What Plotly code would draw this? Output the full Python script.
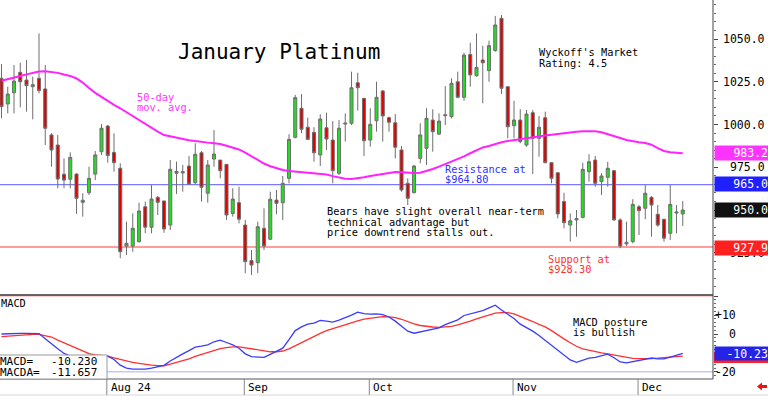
import pandas as pd
import plotly.graph_objects as go

# ---------------- data ----------------
dates = pd.bdate_range("2024-07-09", "2024-12-11", freq="C",
                       holidays=["2024-09-02", "2024-11-28"])

opens = [1027.0, 1012.0, 1018.6, 1030.5, 1026.0, 1022.1, 1027.0, 1020.8, 993.9, 988.0,
         970.9, 968.0, 971.0, 954.5, 960.1, 971.0, 984.1, 999.1, 983.7, 974.4,
         928.9, 928.9, 931.5, 951.9, 939.9, 957.4, 955.3, 941.2, 972.6, 972.4,
         975.7, 966.0, 983.5, 959.8, 979.8, 979.2, 976.7, 948.0, 954.3, 941.2,
         920.4, 919.2, 939.3, 932.9, 955.8, 954.3, 968.5, 992.5, 1009.5, 998.4,
         995.4, 982.2, 998.1, 990.9, 971.5, 1000.9, 1000.7, 1024.4, 1015.3, 990.9,
         1002.2, 1019.6, 1004.0, 1001.0, 985.1, 965.6, 960.1, 980.2, 986.1, 1002.6,
         994.4, 1005.7, 1004.6, 1025.0, 1015.9, 1041.0, 1028.5, 1037.7, 1031.5, 1043.2,
         1062.1, 1022.1, 999.3, 1002.6, 988.0, 1006.9, 991.9, 1004.0, 977.7, 971.8,
         954.9, 941.2, 944.2, 945.7, 972.4, 979.2, 966.6, 969.1, 973.0, 944.2,
         930.2, 931.5, 951.9, 951.0, 957.4, 947.5, 944.6, 936.4, 948.2, 947.7]
highs = [1035.4, 1022.1, 1034.8, 1036.1, 1037.7, 1028.0, 1053.3, 1034.8, 994.9, 993.9,
         980.2, 983.7, 971.5, 959.8, 975.3, 984.5, 1000.3, 999.7, 994.9, 977.3,
         943.2, 948.0, 954.3, 954.9, 964.6, 958.2, 955.3, 979.2, 978.3, 976.3,
         981.6, 989.0, 984.5, 979.2, 996.8, 979.2, 976.7, 962.7, 963.6, 944.2,
         926.6, 943.2, 951.0, 960.7, 961.7, 969.9, 994.3, 1017.3, 1017.8, 1004.0,
         998.4, 1006.0, 1006.9, 1002.0, 1002.6, 1006.5, 1030.9, 1030.3, 1015.3, 1009.5,
         1025.0, 1020.2, 1004.6, 1006.1, 987.4, 968.5, 976.3, 1000.7, 1009.5, 1008.9,
         1006.5, 1022.5, 1027.0, 1030.9, 1042.0, 1047.8, 1053.3, 1046.0, 1049.0, 1063.5,
         1064.0, 1022.1, 1013.9, 1008.9, 1008.5, 1008.5, 1005.0, 1007.5, 977.7, 971.8,
         960.1, 948.0, 950.0, 977.7, 982.6, 981.6, 971.5, 978.2, 973.4, 945.1,
         943.2, 956.3, 952.9, 964.6, 958.2, 952.9, 944.6, 964.6, 952.9, 955.3]
lows = [1003.6, 1006.5, 1006.5, 1010.0, 1007.5, 1003.0, 1018.2, 988.0, 975.3, 962.7,
        962.7, 962.7, 947.7, 946.1, 958.8, 967.5, 982.2, 977.7, 972.4, 921.8,
        923.7, 925.6, 930.9, 936.4, 936.4, 947.1, 936.7, 938.3, 959.4, 960.7,
        964.6, 965.2, 954.9, 954.3, 975.3, 968.5, 944.2, 946.1, 942.2, 913.0,
        912.0, 913.0, 926.6, 932.5, 947.5, 944.2, 965.6, 991.9, 994.9, 990.9,
        978.2, 975.7, 985.1, 965.6, 970.5, 990.0, 999.7, 1008.1, 981.6, 987.0,
        995.8, 990.0, 995.8, 980.2, 960.7, 952.9, 959.8, 977.3, 976.3, 984.1,
        993.9, 999.7, 1003.6, 1015.3, 1013.9, 1022.1, 1028.0, 1012.4, 1025.0, 1042.6,
        1017.8, 991.9, 991.9, 989.0, 987.0, 971.0, 981.2, 977.3, 965.6, 945.1,
        939.3, 931.5, 934.4, 945.1, 966.6, 963.6, 958.8, 963.6, 943.7, 927.6,
        928.9, 930.5, 935.4, 944.6, 934.4, 940.2, 931.5, 932.5, 936.4, 940.7]
closes = [1010.4, 1017.8, 1025.4, 1025.0, 1022.7, 1023.3, 1019.8, 997.8, 985.1, 968.1,
          967.5, 980.8, 956.8, 955.7, 968.5, 982.2, 997.8, 981.8, 977.7, 925.6,
          930.5, 939.3, 949.4, 939.9, 956.4, 954.5, 938.9, 973.8, 971.5, 971.8,
          965.2, 982.6, 963.3, 976.3, 982.7, 973.0, 947.1, 956.4, 944.6, 919.8,
          917.8, 940.2, 928.9, 956.3, 953.9, 965.6, 991.3, 1015.7, 997.2, 991.3,
          983.5, 1003.2, 991.5, 973.0, 997.8, 1000.4, 1021.5, 1021.5, 990.5, 1000.1,
          1015.9, 1005.0, 1001.3, 986.7, 961.7, 956.8, 975.7, 993.9, 1003.6, 995.8,
          1002.0, 1005.2, 1024.1, 1015.9, 1040.6, 1029.0, 1033.4, 1036.1, 1046.1, 1058.2,
          1021.2, 998.7, 1002.6, 990.0, 1006.1, 991.9, 998.4, 977.7, 968.5, 947.7,
          942.6, 943.7, 945.0, 973.8, 978.2, 965.6, 969.9, 974.4, 944.2, 928.9,
          931.1, 953.3, 949.6, 959.8, 952.9, 941.2, 933.5, 953.3, 948.8, 950.0]
ma50 = [1025.6, 1026.4, 1027.2, 1028.4, 1029.3, 1030.2, 1031.0, 1031.2, 1030.9, 1030.2,
        1029.2, 1028.4, 1026.9, 1024.5, 1021.4, 1018.5, 1016.2, 1013.6, 1011.5, 1009.5,
        1007.2, 1004.6, 1002.3, 1000.2, 998.0, 995.8, 993.8, 993.0, 992.2, 991.4,
        990.8, 990.4, 989.8, 989.4, 989.1, 988.6, 987.6, 986.6, 985.4, 983.6,
        981.5, 979.5, 977.2, 975.6, 974.3, 973.4, 972.8, 972.5, 972.2, 971.9,
        971.5, 971.1, 970.7, 969.8, 968.9, 968.3, 968.2, 968.6, 969.2, 969.9,
        970.4, 971.0, 971.7, 972.2, 972.1, 971.8, 971.6, 971.8, 972.8, 974.0,
        975.4, 976.8, 978.3, 979.8, 981.4, 983.2, 985.0, 986.6, 987.4, 988.6,
        989.6, 990.3, 990.9, 991.5, 992.1, 992.7, 993.1, 993.6, 994.0, 994.5,
        995.0, 995.4, 995.7, 996.0, 996.2, 996.0, 995.5, 994.5, 993.3, 992.1,
        990.9, 990.1, 989.6, 989.2, 988.2, 986.2, 984.5, 983.8, 983.4, 983.2]
macd = [0.0, 0.2, 0.3, 0.3, 0.3, 0.3, 0.2, -2.5, -5.3, -7.8,
        -10.3, -11.5, -12.0, -12.0, -11.8, -11.7, -11.7, -11.7, -13.5, -16.5,
        -18.0, -18.6, -18.6, -18.6, -18.0, -17.3, -16.6, -14.3, -12.3, -10.5,
        -8.8, -7.0, -6.4, -5.7, -4.1, -3.3, -4.5, -5.7, -7.5, -10.5,
        -12.0, -12.2, -12.4, -10.8, -9.0, -7.5, -3.0, 1.8, 3.8, 5.2,
        5.8, 7.2, 6.8, 6.3, 7.3, 8.5, 10.0, 11.6, 10.8, 10.5,
        10.6, 10.2, 9.0, 6.8, 3.9, 1.5, 0.4, 1.2, 2.0, 2.6,
        3.3, 5.0, 6.4, 7.5, 9.8, 10.6, 11.5, 12.4, 13.8, 15.2,
        12.7, 10.6, 8.2, 5.2, 3.5, 1.5, -0.8, -3.4, -5.8, -8.6,
        -11.3, -13.7, -15.0, -13.8, -12.8, -12.4, -11.7, -10.7, -12.6, -14.8,
        -15.3, -14.6, -14.0, -13.1, -12.7, -13.2, -13.2, -12.2, -11.4, -10.23]
macda = [-1.4, -1.1, -0.8, -0.5, -0.3, -0.2, -0.2, -0.8, -1.6, -3.2,
         -4.6, -6.2, -7.6, -9.0, -10.4, -11.0, -11.4, -11.7, -12.6, -13.5,
         -14.3, -15.0, -15.6, -16.2, -16.5, -16.7, -16.8, -16.0, -15.1, -14.3,
         -13.1, -11.9, -10.9, -9.8, -8.6, -7.7, -7.2, -6.8, -6.8, -7.3,
         -7.9, -8.6, -9.2, -9.4, -9.4, -9.0, -7.9, -6.2, -4.6, -2.9,
         -1.4, 0.3, 1.8, 2.9, 4.0, 4.9, 6.1, 7.0, 7.9, 8.4,
         8.9, 9.2, 9.1, 8.7, 7.8, 6.5, 5.4, 4.5, 3.9, 3.7,
         3.5, 3.6, 4.0, 4.8, 5.7, 6.8, 8.0, 8.9, 10.0, 11.0,
         11.3, 11.3, 10.6, 9.4, 8.0, 6.6, 5.1, 3.8, 1.8, -0.5,
         -2.6, -4.6, -6.5, -7.9, -8.7, -9.6, -10.0, -10.5, -11.2, -11.9,
         -12.6, -12.9, -13.0, -13.1, -13.0, -12.8, -12.5, -12.3, -12.0, -11.657]

month_numbers = [8, 9, 10, 11, 12]
month_labels = ["Aug 24", "Sep", "Oct", "Nov", "Dec"]
price_ticks = [925, 950, 975, 1000, 1025, 1050]
macd_ticks = [10, 0, -20]
macd_tick_labels = ["+10", "0", "-20"]
resistance = 964.8
support = 928.3
box_values = [983.2, 965.0, 950.0, 927.9]
box_colors = ["#ff33ff", "#1f1fff", "#111111", "#ff2020"]

# ---------------- figure ----------------
W, H = 768, 396
PL, PR = 0, 713          # plot area x in px
PT, PB = 0, 379          # plot area y in px
SPLIT = 295              # separation price / macd in px
N = len(opens)
xs = list(range(N))
X0 = 1.5                 # px of first candle
DX = 6.25                # px per candle

def px(xp):
    return (xp - PL) / (PR - PL)

def py(yp):
    return (PB - yp) / (PB - PT)

price_top = 1050 + 39 / 1.71
price_bot = 1050 - (SPLIT - 39) / 1.71
macd_top = (334 - SPLIT) / 1.89
macd_bot = (334 - PB) / 1.89

MONO = "DejaVu Sans Mono"

fig = go.Figure()
fig.add_trace(go.Candlestick(
    x=xs, open=opens, high=highs, low=lows, close=closes,
    increasing=dict(fillcolor="#22dd22", line=dict(color="#6e6e6e", width=1)),
    decreasing=dict(fillcolor="#e00000", line=dict(color="#6e6e6e", width=1)),
    whiskerwidth=0, hoverinfo="skip", showlegend=False,
    xaxis="x", yaxis="y"))
fig.add_trace(go.Scatter(x=xs, y=ma50, mode="lines",
                         line=dict(color="#ff22ff", width=2),
                         hoverinfo="skip", showlegend=False, yaxis="y"))
fig.add_trace(go.Scatter(x=xs, y=macda, mode="lines",
                         line=dict(color="#ff3030", width=1.3),
                         hoverinfo="skip", showlegend=False, yaxis="y2"))
fig.add_trace(go.Scatter(x=xs, y=macd, mode="lines",
                         line=dict(color="#3b3bff", width=1.3),
                         hoverinfo="skip", showlegend=False, yaxis="y2"))

xr = [(PL - X0) / DX, (PR - X0) / DX]
split_paper = py(SPLIT)

shapes = []
shapes.append(dict(type="line", xref="paper", yref="y", x0=0, x1=1,
                   y0=resistance, y1=resistance, line=dict(color="#5a5aff", width=1), layer="below"))
shapes.append(dict(type="line", xref="paper", yref="y", x0=0, x1=1,
                   y0=support, y1=support, line=dict(color="#ff9d9d", width=2), layer="below"))
shapes.append(dict(type="line", xref="paper", yref="y2", x0=0, x1=1,
                   y0=20, y1=20, line=dict(color="#ffb8b8", width=1), layer="below"))
shapes.append(dict(type="line", xref="paper", yref="y2", x0=0, x1=1,
                   y0=-20, y1=-20, line=dict(color="#c8c8f4", width=1.5), layer="below"))
shapes.append(dict(type="line", xref="paper", yref="paper", x0=0, x1=1,
                   y0=split_paper, y1=split_paper, line=dict(color="#333333", width=1.5)))
shapes.append(dict(type="line", xref="paper", yref="paper", x0=1, x1=1,
                   y0=0, y1=1, line=dict(color="#444444", width=1)))
shapes.append(dict(type="line", xref="paper", yref="paper", x0=0, x1=1,
                   y0=0, y1=0, line=dict(color="#555555", width=1.2)))
shapes.append(dict(type="line", xref="paper", yref="paper", x0=0, x1=W / (PR - PL),
                   y0=py(395), y1=py(395), line=dict(color="#d8d8d8", width=1)))
month_idx = []
for m in month_numbers:
    for i, d in enumerate(dates):
        if d.month == m:
            month_idx.append(i)
            break
for i in month_idx:
    shapes.append(dict(type="line", xref="x", yref="paper", x0=i - 0.15, x1=i - 0.15,
                       y0=0, y1=py(395), line=dict(color="#888888", width=1)))
shapes.append(dict(type="rect", xref="paper", yref="paper", x0=px(-2), x1=px(107),
                   y0=py(379), y1=py(355), line=dict(color="#999999", width=1),
                   fillcolor="white", layer="above"))
shapes.append(dict(type="rect", xref="paper", yref="paper", x0=px(714), x1=px(768),
                   y0=py(363), y1=py(352), line=dict(width=0), fillcolor="#ff2020"))
pts = [(757, 386.5), (762, 382.5), (762, 385), (767, 385), (767, 388), (762, 388), (762, 390.5)]
path = "M " + " L ".join(f"{px(a):.5f},{py(b):.5f}" for a, b in pts) + " Z"
shapes.append(dict(type="path", xref="paper", yref="paper", path=path,
                   fillcolor="#ee1111", line=dict(width=0)))

ann = []

def text(x, y, s, color="black", size=10.3, xanchor="left", yref="paper", xref="paper", **kw):
    d = dict(x=x, y=y, xref=xref, yref=yref, text=s, showarrow=False,
             xanchor=xanchor, yanchor="middle",
             font=dict(family=MONO, size=size, color=color))
    d.update(kw)
    ann.append(d)

text(px(176), py(52), "January Platinum", size=21)
text(px(537), py(52), "Wyckoff's Market")
text(px(537), py(62.5), "Rating: 4.5")
text(px(135), py(96.5), "50-day", color="#ff33ff")
text(px(135), py(107), "mov. avg.", color="#ff33ff")
text(px(443), py(168.5), "Resistance at", color="#3030ff")
text(px(443), py(179), "$964.80", color="#3030ff")
text(px(325), py(211), "Bears have slight overall near-term")
text(px(325), py(221.5), "technical advantage but")
text(px(325), py(232), "price downtrend stalls out.")
text(px(546), py(258.5), "Support at", color="#ff3030")
text(px(546), py(268.5), "$928.30", color="#ff3030")
text(px(571), py(321.5), "MACD posture")
text(px(571), py(332), "is bullish")
text(px(-1), py(302.5), "MACD")
text(px(-2), py(361), "MACD=", size=11)
text(px(-2), py(372), "MACDA=", size=11)
text(px(99), py(361), f"{macd[-1]:.3f}", size=11, xanchor="right")
text(px(99), py(372), f"{macda[-1]:.3f}", size=11, xanchor="right")

for v in price_ticks:
    text(px(767), v, f"{v:.1f}", size=11.5, xanchor="right", yref="y")
for v, c in zip(box_values, box_colors):
    ann.append(dict(x=px(714), y=v, xref="paper", yref="y", text=f"{v:.1f}",
                    showarrow=False, xanchor="left", yanchor="middle",
                    width=52, height=12, align="right", bgcolor=c, borderpad=1,
                    font=dict(family=MONO, size=11.5, color="white")))
for v, s in zip(macd_ticks, macd_tick_labels):
    text(px(738), v, s, size=11.5, xanchor="right", yref="y2")
ann.append(dict(x=px(714), y=macd[-1], xref="paper", yref="y2", text=f"{macd[-1]:.2f}",
                showarrow=False, xanchor="left", yanchor="middle",
                width=52, height=11, align="right", bgcolor="#2424e8", borderpad=1,
                font=dict(family=MONO, size=11.5, color="white")))
for i, lab in zip(month_idx, month_labels):
    text(px(X0 + i * DX + 1), py(387.5), lab, size=11)

fig.update_layout(
    width=W, height=H,
    margin=dict(l=PL, r=W - PR, t=PT, b=H - PB, pad=0),
    paper_bgcolor="white", plot_bgcolor="white",
    showlegend=False,
    boxgap=0.3,
    xaxis=dict(range=xr, showgrid=False, zeroline=False, showticklabels=False,
               ticks="", rangeslider=dict(visible=False), fixedrange=True),
    yaxis=dict(domain=[split_paper, 1], range=[price_bot, price_top], side="right",
               showgrid=False, zeroline=False, showticklabels=False,
               tickvals=price_ticks, ticks="outside", ticklen=4, tickcolor="#444",
               minor=dict(dtick=5, ticks="outside", ticklen=2, tickcolor="#666"),
               anchor="x"),
    yaxis2=dict(domain=[0, split_paper], range=[macd_bot, macd_top], side="right",
                showgrid=False, zeroline=False, showticklabels=False,
                tickvals=[20, 10, 0, -10, -20], ticks="outside", ticklen=4, tickcolor="#444",
                minor=dict(dtick=2, ticks="outside", ticklen=2, tickcolor="#666"),
                anchor="x"),
    shapes=shapes,
    annotations=ann,
)

fig.write_html("out.html", config={"displayModeBar": False},
               post_script="document.body.style.margin='0';document.body.style.padding='0';")
